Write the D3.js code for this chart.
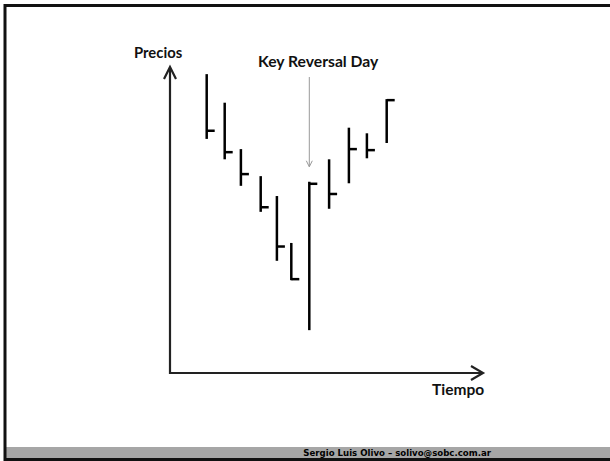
<!DOCTYPE html>
<html>
<head>
<meta charset="utf-8">
<script src="https://cdn.jsdelivr.net/npm/d3@7"></script>
<style>
  html, body { margin: 0; padding: 0; background: #fff; }
  svg { display: block; }
</style>
</head>
<body>
<div id="chart"></div>
<script>
// sessions (position along time axis) and price bars
const sesiones = [1, 2, 2.9, 4, 4.9, 5.7, 6.7, 7.8, 8.9, 9.9, 11];
const maximos = [58.6, 53.0, 43.9, 38.6, 34.7, 25.5, 37.5, 41.9, 48.1, 47.0, 53.7];
const minimos = [45.9, 41.9, 36.7, 31.6, 22.0, 18.2, 8.4, 32.2, 37.2, 42.1, 45.1];
const cierres = [47.5, 43.3, 39.0, 32.5, 24.8, 18.4, 37.1, 35.1, 43.9, 43.7, 53.5];
const diaReversion = 6.7;

const W = 610, H = 461;
const space = { left: 170, right: 127, top: 67, bottom: 88 };

const svg = d3.select('#chart')
  .append('svg')
  .attr('width', W)
  .attr('height', H);

// slide frame
svg.append('rect')
  .attr('x', 0).attr('y', 0).attr('width', W).attr('height', H)
  .style('fill', '#fff');
svg.append('rect')
  .attr('x', 5).attr('y', 447).attr('width', W - 5).attr('height', 12)
  .style('fill', '#a6a6a6');
svg.append('path')
  .attr('d', `M${W},5.5 H5 V459.5 H${W}`)
  .style('fill', 'none')
  .style('stroke', '#111')
  .style('stroke-width', 3);

svg.append('text')
  .attr('x', 491)
  .attr('y', 456)
  .attr('text-anchor', 'end')
  .style('font-family', 'DejaVu Sans, Verdana, sans-serif')
  .style('font-weight', 'bold')
  .style('font-size', '8.6px')
  .style('fill', '#000')
  .text('Sergio Luis Olivo – solivo@sobc.com.ar');

// scales
const x0 = space.left, x1 = W - space.right;
const yBottom = H - space.bottom, yTop = space.top;

const xScale = d3.scaleLinear()
  .domain([0, 12])
  .range([188.7, 404.7]);

const yScale = d3.scaleLinear()
  .domain([0, 60])
  .range([yBottom, yTop]);

// axes with open arrow heads
const ejes = svg.append('g')
  .style('fill', 'none')
  .style('stroke', '#222')
  .style('stroke-width', 2.2)
  .style('stroke-linecap', 'butt');

ejes.append('path')
  .attr('d', `M${x0},${yTop + 1} V${yBottom} H${x1 - 1}`);
ejes.append('path')
  .attr('d', `M${x0 - 6},${yTop + 12} L${x0},${yTop} L${x0 + 6},${yTop + 12}`);
ejes.append('path')
  .attr('d', `M${x1 - 12},${yBottom - 7} L${x1},${yBottom} L${x1 - 12},${yBottom + 7}`);

const etiqueta = (t, x, y, size) => svg.append('text')
  .attr('x', x)
  .attr('y', y)
  .style('font-family', 'Lato, "Open Sans", sans-serif')
  .style('font-weight', 'bold')
  .style('font-size', size)
  .style('fill', '#111')
  .text(t);

etiqueta('Precios', 134, 58, '14.8px');
etiqueta('Tiempo', 432, 395, '15.5px');
etiqueta('Key Reversal Day', 258, 67, '15.7px');

// bars
const data = sesiones.map((s, i) => ({
  s, hi: maximos[i], lo: minimos[i], cl: cierres[i]
}));

const barras = svg.append('g')
  .style('stroke', '#000')
  .style('stroke-width', 2.5)
  .style('fill', 'none');

barras.selectAll('.rango')
  .data(data)
  .enter()
  .append('line')
  .attr('class', 'rango')
  .attr('x1', d => xScale(d.s))
  .attr('x2', d => xScale(d.s))
  .attr('y1', d => yScale(d.hi))
  .attr('y2', d => yScale(d.lo));

barras.selectAll('.cierre')
  .data(data)
  .enter()
  .append('line')
  .attr('class', 'cierre')
  .attr('x1', d => xScale(d.s))
  .attr('x2', d => xScale(d.s) + 8)
  .attr('y1', d => yScale(d.cl))
  .attr('y2', d => yScale(d.cl));

// pointer to the reversal day
const xr = xScale(diaReversion);
const yr = yScale(maximos[sesiones.indexOf(diaReversion)]) - 15;
const flecha = svg.append('g')
  .style('stroke', '#999')
  .style('stroke-width', 1)
  .style('fill', 'none');
flecha.append('line')
  .attr('x1', xr).attr('x2', xr)
  .attr('y1', 77).attr('y2', yr);
flecha.append('path')
  .attr('d', `M${xr - 3},${yr - 6} L${xr},${yr} L${xr + 3},${yr - 6}`);
</script>
</body>
</html>
